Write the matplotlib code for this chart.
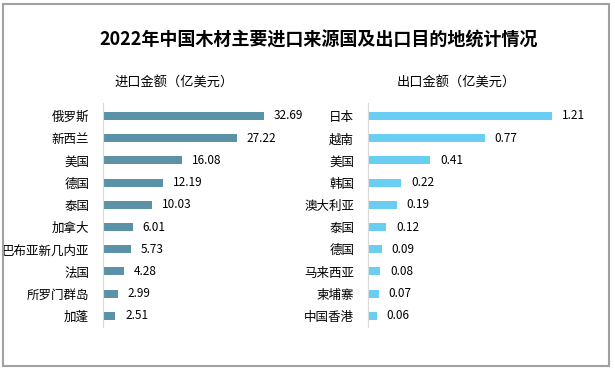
import matplotlib.pyplot as plt
from matplotlib.patches import Rectangle

plt.rcParams['font.family'] = ['Noto Sans CJK SC', 'DejaVu Sans']

imp_names = ['俄罗斯', '新西兰', '美国', '德国', '泰国', '加拿大', '巴布亚新几内亚', '法国', '所罗门群岛', '加蓬']
imp_vals = [32.69, 27.22, 16.08, 12.19, 10.03, 6.01, 5.73, 4.28, 2.99, 2.51]
exp_names = ['日本', '越南', '美国', '韩国', '澳大利亚', '泰国', '德国', '马来西亚', '柬埔寨', '中国香港']
exp_vals = [1.21, 0.77, 0.41, 0.22, 0.19, 0.12, 0.09, 0.08, 0.07, 0.06]

W, H = 615, 371
fig = plt.figure(figsize=(W / 100, H / 100), dpi=100)
fig.patches.append(Rectangle((3 / W, 5 / H), 606 / W, 1 - 9 / H, transform=fig.transFigure,
                             fill=False, edgecolor='#a0a0a0', linewidth=1.5))

fig.text(319 / W, 1 - 40 / H, '2022年中国木材主要进口来源国及出口目的地统计情况',
         ha='center', va='center', fontsize=13, fontweight='bold')
fig.text(174 / W, 1 - 83 / H, '进口金额（亿美元）', ha='center', va='center', fontsize=9.5)
fig.text(456 / W, 1 - 83 / H, '出口金额（亿美元）', ha='center', va='center', fontsize=9.5)


def panel(left, width, names, vals, xmax, color, fmt):
    ax = fig.add_axes([left / W, 1 - 327 / H, width / W, 224 / H])
    y = list(range(len(names)))
    ax.barh(y, vals, height=0.36, color=color)
    ax.set_ylim(9.5, -0.585)
    ax.set_xlim(0, xmax)
    ax.set_yticks(y)
    ax.set_yticklabels(names, fontsize=9)
    ax.tick_params(axis='y', length=0, pad=10)
    ax.set_xticks([])
    for s in ['top', 'right', 'bottom']:
        ax.spines[s].set_visible(False)
    ax.spines['left'].set_color('#d9d9d9')
    for yi, v in zip(y, vals):
        ax.annotate(fmt.format(v), (v, yi), xytext=(7, 0), textcoords='offset points',
                    ha='left', va='center', fontsize=8.5)
    return ax


panel(103, 180, imp_names, imp_vals, 36.55, '#5b92a8', '{:.2f}')
panel(368, 220, exp_names, exp_vals, 1.447, '#6acdf2', '{:.2f}')

fig.savefig('out.png', dpi=100)
